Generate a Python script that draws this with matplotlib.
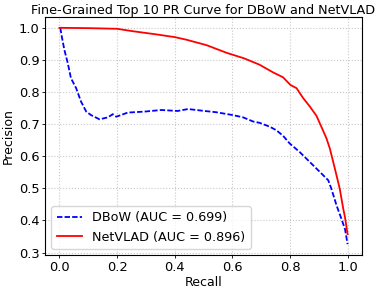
import matplotlib
matplotlib.use("Agg")
import matplotlib.pyplot as plt

# DBoW curve (recall, precision)
dbow_recall = [0.003, 0.008, 0.017, 0.029, 0.040, 0.058, 0.075, 0.093, 0.110, 0.139,
               0.168, 0.185, 0.197, 0.237, 0.295, 0.353, 0.410, 0.446, 0.503, 0.544,
               0.602, 0.637, 0.672, 0.694, 0.729, 0.752, 0.775, 0.798, 0.833, 0.868,
               0.903, 0.932, 0.943, 0.961, 0.978, 0.990, 0.999]
dbow_precision = [1.000, 0.974, 0.932, 0.890, 0.843, 0.812, 0.770, 0.739, 0.728, 0.715,
                  0.721, 0.731, 0.723, 0.736, 0.739, 0.744, 0.741, 0.747, 0.741, 0.737,
                  0.728, 0.721, 0.708, 0.704, 0.692, 0.681, 0.664, 0.640, 0.613, 0.582,
                  0.551, 0.525, 0.498, 0.446, 0.404, 0.373, 0.326]

# NetVLAD curve (recall, precision)
netvlad_recall = [0.000, 0.100, 0.200, 0.250, 0.340, 0.400, 0.440, 0.510, 0.580, 0.640,
                  0.694, 0.741, 0.775, 0.801, 0.822, 0.845, 0.868, 0.891, 0.909, 0.926,
                  0.9375, 0.955, 0.972, 0.984, 0.990, 0.999]
netvlad_precision = [1.000, 0.999, 0.997, 0.990, 0.979, 0.971, 0.963, 0.946, 0.922, 0.905,
                     0.885, 0.861, 0.846, 0.822, 0.812, 0.781, 0.755, 0.726, 0.690, 0.655,
                     0.624, 0.561, 0.498, 0.436, 0.410, 0.357]

dbow_label = "DBoW (AUC = 0.699)"
netvlad_label = "NetVLAD (AUC = 0.896)"

fig = plt.figure(figsize=(3.81, 2.93), dpi=100)
ax = fig.add_axes([45/381, 1 - 255/293, (362-45)/381, (255-17)/293])
ax.plot(dbow_recall, dbow_precision, color="blue", linestyle="--", dashes=(3.0, 1.2),
        linewidth=1.3, label=dbow_label)
ax.plot(netvlad_recall, netvlad_precision, color="red", linestyle="-", linewidth=1.3,
        label=netvlad_label)
ax.set_xticks([0.0, 0.2, 0.4, 0.6, 0.8, 1.0])
ax.set_yticks([0.3, 0.4, 0.5, 0.6, 0.7, 0.8, 0.9, 1.0])
ax.tick_params(labelsize=9.4, length=2.5, pad=1.5, width=0.6)
for s in ax.spines.values():
    s.set_linewidth(0.8)
ax.grid(True, linestyle=":", color="#c8c8c8", linewidth=0.8)
ax.set_xlabel("Recall", fontsize=9, labelpad=1.5)
ax.set_ylabel("Precision", fontsize=9, labelpad=3)
ax.set_title("Fine-Grained Top 10 PR Curve for DBoW and NetVLAD", fontsize=9.2, pad=2.5)
ax.legend(loc="lower left", fontsize=9.2, borderaxespad=0.5)
fig.savefig("out.png", dpi=100)
